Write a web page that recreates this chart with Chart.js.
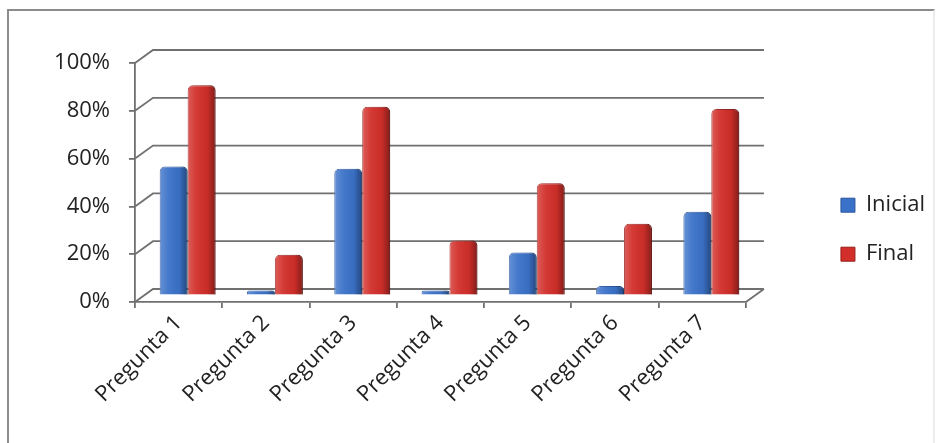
<!DOCTYPE html>
<html>
<head>
<meta charset="utf-8">
<script src="https://cdn.jsdelivr.net/npm/chart.js@4.4.0/dist/chart.umd.min.js"></script>
<style>
  html, body { margin: 0; padding: 0; background: #fff; }
  #wrap { position: relative; width: 940px; height: 443px; overflow: hidden; }
  #frame { position: absolute; left: 7px; top: 9px; width: 924px; height: 460px;
           border: 2px solid #8c8c8c; border-right-color: #ececec; }
  canvas { position: absolute; left: 0; top: 0; }
</style>
</head>
<body>
<div id="wrap">
  <div id="frame"></div>
  <canvas id="chart1" width="940" height="443"></canvas>
</div>
<script>
// data (percent)
let categories = ['Pregunta 1', 'Pregunta 2', 'Pregunta 3', 'Pregunta 4', 'Pregunta 5', 'Pregunta 6', 'Pregunta 7'];
let inicial = [54, 1, 53, 1, 18, 4, 35];
let final = [88, 17, 79, 23, 47, 30, 78];
let yTicks = [0, 20, 40, 60, 80, 100];

// fake 3D depth of the back wall
let depthX = 18, depthY = -13;
let font = { family: "'Open Sans', sans-serif", size: 22 };
let lineColor = '#707070';

// back wall + side lines, then shift bars half way into the depth
const wallPlugin = {
	id: 'wall',
	beforeDatasetsDraw(chart) {
		const { ctx, chartArea: a, scales: { y } } = chart;
		ctx.save();
		ctx.strokeStyle = lineColor;
		ctx.lineWidth = 1.8;
		ctx.beginPath();
		y.ticks.forEach(t => {
			let py = y.getPixelForValue(t.value);
			ctx.moveTo(a.left, py);
			ctx.lineTo(a.left + depthX, py + depthY);
			ctx.lineTo(a.right + depthX, py + depthY);
		});
		ctx.moveTo(a.right, a.bottom);
		ctx.lineTo(a.right + depthX, a.bottom + depthY);
		ctx.stroke();
		ctx.restore();

		ctx.save();
		ctx.translate(depthX / 2, depthY / 2);
	},
	afterDatasetsDraw(chart) {
		const ctx = chart.ctx;
		// shading so the bars look round
		chart.getSortedVisibleDatasetMetas().forEach(meta => {
			meta.data.forEach(bar => {
				let { x, y, base, width } = bar.getProps(['x', 'y', 'base', 'width'], true);
				let left = x - width / 2;
				let g = ctx.createLinearGradient(left, 0, left + width, 0);
				g.addColorStop(0, 'rgba(255,255,255,0.22)');
				g.addColorStop(0.3, 'rgba(255,255,255,0.06)');
				g.addColorStop(0.7, 'rgba(0,0,0,0.04)');
				g.addColorStop(1, 'rgba(0,0,0,0.38)');
				ctx.fillStyle = g;
				ctx.beginPath();
				ctx.roundRect(left, y, width, base - y, [5, 5, 0, 0]);
				ctx.fill();
			});
		});
		ctx.restore();
	}
};

let ctx = document.getElementById('chart1');
let myChart = new Chart(ctx, {
	type: 'bar',
	data: {
		labels: categories,
		datasets: [{
			label: 'Inicial',
			data: inicial,
			backgroundColor: '#3b72c9',
			borderColor: '#2a559b',
			borderWidth: 1,
			borderRadius: { topLeft: 5, topRight: 5 },
			borderSkipped: 'bottom',
			minBarLength: 5
		}, {
			label: 'Final',
			data: final,
			backgroundColor: '#d22f2a',
			borderColor: '#961e1a',
			borderWidth: 1,
			borderRadius: { topLeft: 5, topRight: 5 },
			borderSkipped: 'bottom',
			minBarLength: 5
		}]
	},
	options: {
		responsive: false,
		animation: false,
		devicePixelRatio: 1,
		layout: { padding: { top: 63, right: 5, bottom: 0, left: 0 } },
		datasets: { bar: { categoryPercentage: 0.64, barPercentage: 1 } },
		scales: {
			x: {
				grid: { offset: true, drawOnChartArea: false, drawTicks: true, tickLength: 6, color: lineColor, lineWidth: 1.8 },
				border: { color: lineColor, width: 1.8 },
				ticks: { minRotation: 45, maxRotation: 45, padding: 2, color: '#222', font: font },
				afterFit: s => { s.height = 141; }
			},
			y: {
				min: 0,
				max: 100,
				afterBuildTicks: s => { s.ticks = yTicks.map(v => ({ value: v })); },
				grid: { drawOnChartArea: false, drawTicks: true, tickLength: 6, color: lineColor, lineWidth: 1.8 },
				border: { color: lineColor, width: 1.8 },
				ticks: { padding: 19, color: '#222', font: font, callback: v => v + '%' },
				afterFit: s => { s.width = 135; }
			},
			spacer: {
				type: 'linear',
				position: 'right',
				grid: { display: false },
				border: { display: false },
				ticks: { display: false },
				afterFit: s => { s.width = 68; }
			}
		},
		plugins: {
			tooltip: { enabled: false },
			legend: {
				position: 'right',
				align: 'center',
				fullSize: false,
				title: { display: true, text: '', padding: { top: 80, bottom: 0 } },
				labels: { boxWidth: 14, boxHeight: 14, padding: 27, color: '#222', font: font }
			}
		}
	},
	plugins: [wallPlugin]
});
</script>
</body>
</html>
